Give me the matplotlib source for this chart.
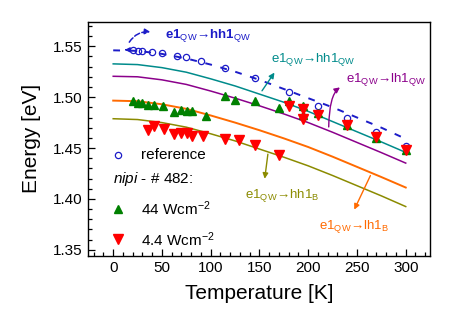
import matplotlib
matplotlib.use("Agg")
import matplotlib.pyplot as plt
from matplotlib.ticker import MultipleLocator, FormatStrFormatter

plt.rcParams['font.family'] = ['Liberation Sans', 'DejaVu Sans']
plt.rcParams['mathtext.fontset'] = 'custom'
plt.rcParams['mathtext.rm'] = 'Liberation Sans'
plt.rcParams['mathtext.it'] = 'Liberation Sans:italic'
plt.rcParams['mathtext.bf'] = 'Liberation Sans:bold'

# measured points
T_ref = [20, 25, 30, 40, 50, 65, 75, 90, 115, 145, 180, 210, 240, 270, 300]
E_ref = [1.5468, 1.5451, 1.5451, 1.5441, 1.5435, 1.5408, 1.5392, 1.5352, 1.5287,
         1.5189, 1.5051, 1.4916, 1.4795, 1.4657, 1.4523]

T_44 = [20, 25, 30, 36, 42, 51, 62, 70, 76, 81, 95, 115, 125, 145, 170, 180,
        195, 195, 210, 240, 270, 300]
E_44 = [1.4959, 1.4943, 1.4943, 1.4926, 1.4926, 1.4909, 1.4854, 1.4877, 1.4860,
        1.4860, 1.4811, 1.5015, 1.4975, 1.4959, 1.4894, 1.4959, 1.4909, 1.4828,
        1.4844, 1.4729, 1.4598, 1.4476]

T_4 = [36, 42, 52, 62, 70, 76, 81, 92, 115, 129, 145, 170, 180, 195, 195, 210,
       240, 270, 300]
E_4 = [1.4680, 1.4720, 1.4690, 1.4638, 1.4647, 1.4647, 1.4621, 1.4621, 1.4588,
       1.4575, 1.4532, 1.4434, 1.4916, 1.4884, 1.4785, 1.4825, 1.4726, 1.4604,
       1.4483]

# calculated transitions
T_calc = [0, 25, 50, 75, 100, 125, 150, 175, 200, 225, 250, 275, 300]
E_ref_fit = [1.546, 1.5455, 1.5425, 1.538, 1.532, 1.525, 1.517, 1.508, 1.499,
             1.490, 1.480, 1.470, 1.459]
E_hh_qw = [1.5327, 1.532, 1.529, 1.5245, 1.518, 1.511, 1.503, 1.495, 1.486,
           1.476, 1.466, 1.456, 1.4457]
E_lh_qw = [1.5205, 1.520, 1.517, 1.5125, 1.506, 1.499, 1.4915, 1.4835, 1.475,
           1.4655, 1.4555, 1.4455, 1.4352]
E_lh_b = [1.4966, 1.496, 1.493, 1.4885, 1.482, 1.475, 1.4675, 1.4595, 1.451,
          1.4415, 1.4315, 1.4215, 1.4112]
E_hh_b = [1.4788, 1.478, 1.475, 1.4705, 1.464, 1.457, 1.449, 1.441, 1.4325,
          1.423, 1.413, 1.403, 1.3925]

blue = '#1c1cc8'
teal = '#008b8b'
purple = '#8b008b'
orange = '#ff6a00'
olive = '#8b8b00'

fig = plt.figure(figsize=(4.6, 3.26), dpi=100)
ax = fig.add_axes([0.191, 0.215, 0.744, 0.718])

ax.plot(T_calc, E_hh_qw, color=teal, lw=1.1)
ax.plot(T_calc, E_lh_qw, color=purple, lw=1.1)
ax.plot(T_calc, E_lh_b, color=orange, lw=1.4)
ax.plot(T_calc, E_hh_b, color=olive, lw=1.1)
ax.plot(T_calc, E_ref_fit, color=blue, lw=1.4, ls=(0, (3.5, 4.5)))

ax.plot(T_ref, E_ref, ls='none', marker='o', ms=4.5, mfc='none', mec=blue, mew=0.9)
ax.plot(T_44, E_44, ls='none', marker='^', ms=5.5, color='#008000')
ax.plot(T_4, E_4, ls='none', marker='v', ms=6.5, color='#ff0000')

# legend drawn by hand like the original
ax.plot([5], [1.4434], ls='none', marker='o', ms=4.5, mfc='none', mec=blue, mew=0.9)
ax.text(28, 1.4434, 'reference', fontsize=11, va='center')
ax.text(0, 1.4195, r'$\it{nipi}$ - # 482:', fontsize=11, va='center')
ax.plot([5], [1.390], ls='none', marker='^', ms=5.5, color='#008000')
ax.text(28, 1.390, r'44 Wcm$^{-2}$', fontsize=11, va='center')
ax.plot([5], [1.3604], ls='none', marker='v', ms=6.5, color='#ff0000')
ax.text(28, 1.3604, r'4.4 Wcm$^{-2}$', fontsize=11, va='center')

# transition labels
ax.text(53, 1.5605, r'e1$_{\rm QW}$→hh1$_{\rm QW}$', color=blue, fontsize=9.5,
        fontweight='bold', va='center')
ax.annotate('', xy=(41, 1.5638), xytext=(15, 1.5517),
            arrowprops=dict(arrowstyle='-|>', color=blue, lw=1.1, ls='--',
                            connectionstyle='arc3,rad=-0.35', mutation_scale=8))
ax.annotate('', xy=(9, 1.5465), xytext=(17, 1.5465),
            arrowprops=dict(arrowstyle='-|>', color=blue, lw=1.0, mutation_scale=7))

ax.text(162, 1.537, r'e1$_{\rm QW}$→hh1$_{\rm QW}$', color=teal, fontsize=9.5, va='center')
ax.annotate('', xy=(167, 1.5264), xytext=(151, 1.5040),
            arrowprops=dict(arrowstyle='-|>', color=teal, lw=1.0, mutation_scale=8))

ax.text(239, 1.5172, r'e1$_{\rm QW}$→lh1$_{\rm QW}$', color=purple, fontsize=9.5, va='center')
ax.annotate('', xy=(235, 1.5110), xytext=(221, 1.4680),
            arrowprops=dict(arrowstyle='-|>', color=purple, lw=1.0, mutation_scale=8,
                            connectionstyle='angle3,angleA=90,angleB=25'))

ax.text(135, 1.4038, r'e1$_{\rm QW}$→hh1$_{\rm B}$', color=olive, fontsize=9.5, va='center')
ax.annotate('', xy=(155, 1.4171), xytext=(159, 1.4467),
            arrowprops=dict(arrowstyle='-|>', color=olive, lw=1.0, mutation_scale=8))

ax.text(211, 1.3726, r'e1$_{\rm QW}$→lh1$_{\rm B}$', color=orange, fontsize=9.5, va='center')
ax.annotate('', xy=(246, 1.3870), xytext=(265, 1.4254),
            arrowprops=dict(arrowstyle='-|>', color=orange, lw=1.0, mutation_scale=8))

ax.set_xlim(-26, 325)
ax.set_ylim(1.344, 1.574)
ax.xaxis.set_major_locator(MultipleLocator(50))
ax.xaxis.set_minor_locator(MultipleLocator(10))
ax.yaxis.set_major_locator(MultipleLocator(0.05))
ax.yaxis.set_minor_locator(MultipleLocator(0.01))
ax.yaxis.set_major_formatter(FormatStrFormatter('%.2f'))
ax.tick_params(which='both', direction='in', top=False, right=False, labelsize=11,
               color='black', width=0.9)
ax.tick_params(which='major', length=5)
ax.tick_params(which='minor', length=3)
for s in ax.spines.values():
    s.set_linewidth(1.0)

ax.set_xlabel('Temperature [K]', fontsize=15, labelpad=7)
ax.set_ylabel('Energy [eV]', fontsize=15, labelpad=9)

fig.savefig('out.png', dpi=100)
